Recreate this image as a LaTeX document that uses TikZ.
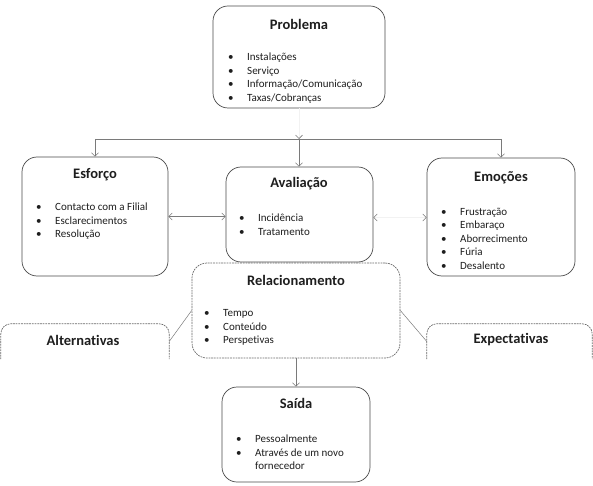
\documentclass[tikz,border=0pt]{standalone}
\usepackage{fontspec}
\setmainfont{Carlito}[Ligatures=NoCommon]
\usepackage{tikz}
\usetikzlibrary{arrows.meta,calc,positioning}
\definecolor{boxline}{HTML}{4A4A4A}
\definecolor{dashline}{HTML}{6A6A6A}
\definecolor{arrline}{HTML}{7A7A7A}
\definecolor{faintline}{HTML}{F2F2F2}
\definecolor{txt}{HTML}{1E1E1E}
\newcommand{\bul}{\makebox[19pt][l]{\textbullet}}
\newcommand{\nobul}{\makebox[19pt][l]{}}
\tikzset{
  stagebox/.style={draw=boxline, rounded corners=15pt, line width=0.7pt, fill=white, inner sep=0pt},
  linkbox/.style={draw=dashline, dash pattern=on 1.8pt off 0.9pt, rounded corners=15pt, line width=0.7pt, fill=white, inner sep=0pt},
  openbox/.style={inner sep=0pt},
  opendash/.style={draw=dashline, dash pattern=on 1.8pt off 0.9pt, rounded corners=10pt, line width=0.7pt},
  stagetitle/.style={font=\fontsize{14.5}{17}\selectfont\bfseries, text=txt, inner sep=0pt},
  stagelist/.style={font=\fontsize{11}{13.5}\selectfont, text=txt, align=left, anchor=west, inner sep=0pt},
  flowarrow/.style={-{Straight Barb[length=3.5pt,width=7pt]}, line width=0.6pt, draw=arrline},
  flowboth/.style={{Straight Barb[length=3.5pt,width=7pt]}-{Straight Barb[length=3.5pt,width=7pt]}, line width=0.6pt, draw=arrline},
  faintarrow/.style={-{Straight Barb[length=3.5pt,width=7pt,color=arrline]}, line width=0.6pt, draw=faintline},
  faintboth/.style={{Straight Barb[length=3.5pt,width=7pt,color=arrline]}-{Straight Barb[length=3.5pt,width=7pt,color=arrline]}, line width=0.6pt, draw=faintline},
  hubline/.style={line width=0.6pt, draw=arrline},
  linkline/.style={line width=0.5pt, draw=arrline}
}

\begin{document}
\begin{tikzpicture}[x=1pt,y=-1pt]
  \useasboundingbox (0,0) rectangle (593,486);

  % problema
  \node[stagebox, minimum width=172pt, minimum height=102pt] (prob) at (299,57) {};
  \node[stagetitle] (probT) at (299,24) {Problema};
  \node[stagelist] (probL) at (228,78) {\bul Instalações\\ \bul Serviço\\ \bul Informação/Comunicação\\ \bul Taxas/Cobranças};

  % hub
  \coordinate (hub)  at (299,139);
  \coordinate (hubL) at (95,139);
  \coordinate (hubR) at (501,139);

  % esforco
  \node[stagebox, minimum width=146pt, minimum height=119pt] (esf) at (95,216.5) {};
  \node[stagetitle] (esfT) at (95,175) {Esforço};
  \node[stagelist] (esfL) at (36,221.5) {\bul Contacto com a Filial\\ \bul Esclarecimentos\\ \bul Resolução};

  % avaliacao
  \node[stagebox, minimum width=147pt, minimum height=95pt] (aval) at (299.5,214.5) {};
  \node[stagetitle] (avalT) at (299,184) {Avaliação};
  \node[stagelist] (avalL) at (239,224.5) {\bul Incidência\\ \bul Tratamento};

  % emocoes
  \node[stagebox, minimum width=148pt, minimum height=118pt] (emo) at (501,217) {};
  \node[stagetitle] (emoT) at (501,178) {Emoções};
  \node[stagelist] (emoL) at (441,238.5) {\bul Frustração\\ \bul Embaraço\\ \bul Aborrecimento\\ \bul Fúria\\ \bul Desalento};

  % relacionamento
  \node[linkbox, minimum width=208pt, minimum height=95pt] (rel) at (296,310.5) {};
  \node[stagetitle] (relT) at (296,280) {Relacionamento};
  \node[stagelist] (relL) at (204,327.5) {\bul Tempo\\ \bul Conteúdo\\ \bul Perspetivas};

  % alternativas / expectativas
  \node[openbox, minimum width=168pt, minimum height=35pt] (alt) at (85,341.5) {};
  \draw[opendash] (alt.south west) -- (alt.north west) -- (alt.north east) -- (alt.south east);
  \node[stagetitle] (altT) at (83,340) {Alternativas};
  \node[openbox, minimum width=165pt, minimum height=35pt] (exp) at (509.5,341.5) {};
  \draw[opendash] (exp.south west) -- (exp.north west) -- (exp.north east) -- (exp.south east);
  \node[stagetitle] (expT) at (511,340) {Expectativas};

  % saida
  \node[stagebox, minimum width=148pt, minimum height=95pt] (sai) at (296,434.5) {};
  \node[stagetitle] (saiT) at (296,403) {Saída};
  \node[stagelist] (saiL) at (236,452.5) {\bul Pessoalmente\\ \bul Através de um novo\\ \nobul fornecedor};

  % arrows
  \draw[faintarrow] (prob.south) -- (hub);
  \draw[hubline] (hubL) -- (hubR);
  \draw[flowarrow] (hubL) -- (esf.north);
  \draw[flowarrow] (hub) -- (hub |- aval.north);
  \draw[flowarrow] (hubR) -- (emo.north);

  \draw[flowboth] (esf.east) -- (esf.east -| aval.west);
  \draw[faintboth] ($(aval.east)+(0,3)$) -- ($(aval.east -| emo.west)+(0,3)$);

  \draw[linkline] (alt.east) -- (rel.west);
  \draw[linkline] (rel.east) -- (exp.west);

  \draw[flowarrow] (rel.south) -- (sai.north);

\end{tikzpicture}
\end{document}
